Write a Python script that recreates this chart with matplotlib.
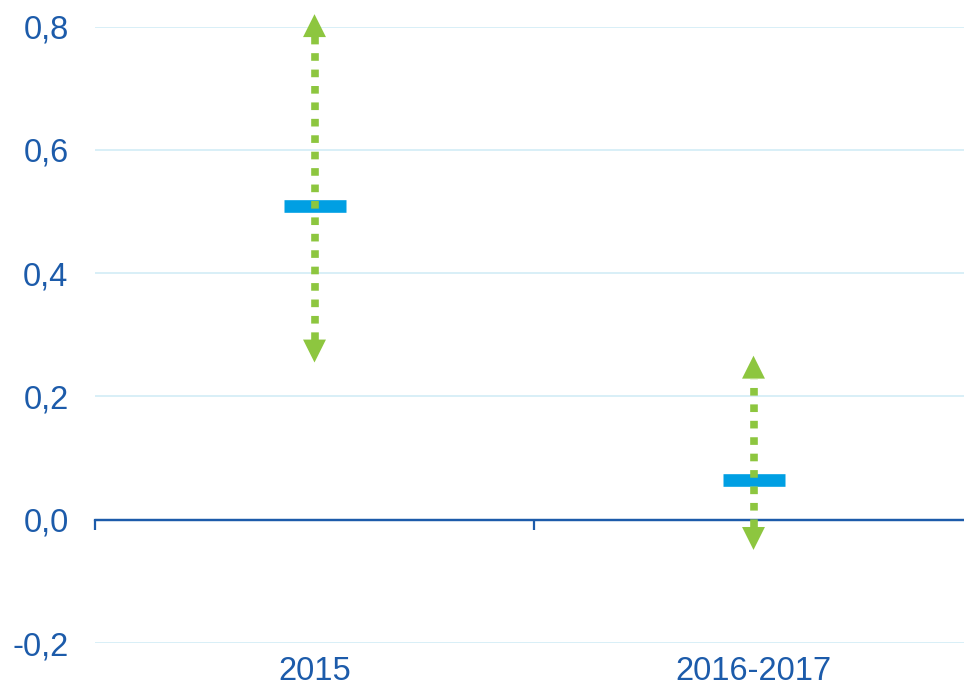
import matplotlib.pyplot as plt

# dados
categorias = ['2015', '2016-2017']
valores = [0.509, 0.064]
limite_inf = [0.255, -0.049]
limite_sup = [0.820, 0.266]
yticks = [-0.2, 0.0, 0.2, 0.4, 0.6, 0.8]
ytick_labels = ['-0,2', '0,0', '0,2', '0,4', '0,6', '0,8']

azul_texto = '#1C5BAA'
azul_barra = '#009FE3'
verde = '#8DC63F'
grade = '#D2ECF6'

plt.rcParams['font.family'] = ['Liberation Sans', 'DejaVu Sans']

fig = plt.figure(figsize=(9.64, 6.87), dpi=100)
ax = fig.add_axes([95 / 964, 44 / 687, 878 / 964, 616.5 / 687])

xs = list(range(len(categorias)))

# marcadores azuis (valor central)
ax.plot(xs, valores, ls='none', marker='_', ms=44.6, mew=9.1,
        color=azul_barra, zorder=3)

# setas verdes pontilhadas (intervalo)
head = 0.037  # comprimento da ponta em unidades do eixo y
for x, lo, hi in zip(xs, limite_inf, limite_sup):
    ax.plot([x, x], [lo + head, hi - head], color=verde, lw=5.5, dashes=(1.0, 1.15),
            dash_capstyle='butt', zorder=4, clip_on=False)
    for tip, tail in [(hi, hi - head), (lo, lo + head)]:
        ax.annotate('', xy=(x, tip), xytext=(x, tail), annotation_clip=False,
                    arrowprops=dict(arrowstyle='-|>,head_length=1.0,head_width=0.5',
                                    mutation_scale=16.5, color=verde, lw=0,
                                    shrinkA=0, shrinkB=0),
                    zorder=5)

ax.set_xlim(-0.5, 1.5)
ax.set_ylim(-0.2, 0.8)

ax.set_yticks(yticks)
ax.set_yticklabels(ytick_labels)
ax.set_xticks(xs)
ax.set_xticklabels(categorias)
ax.tick_params(axis='both', length=0, labelsize=23.5, labelcolor=azul_texto)
ax.tick_params(axis='y', pad=19)
ax.tick_params(axis='x', pad=9)

for s in ax.spines.values():
    s.set_visible(False)

ax.yaxis.grid(True, color=grade, lw=1.2)
ax.set_axisbelow(True)

# eixo em zero com marcas
ax.axhline(0, color=azul_texto, lw=1.6, zorder=2)
sec = ax.secondary_xaxis(0.2)
sec.set_xticks([-0.5, 0.5, 1.5])
sec.set_xticklabels([])
sec.tick_params(axis='x', direction='out', length=7.2, width=1.6, color=azul_texto)
sec.spines['bottom'].set_color(azul_texto)
sec.spines['bottom'].set_linewidth(1.6)

fig.savefig('out.png', dpi=100, facecolor='white')
